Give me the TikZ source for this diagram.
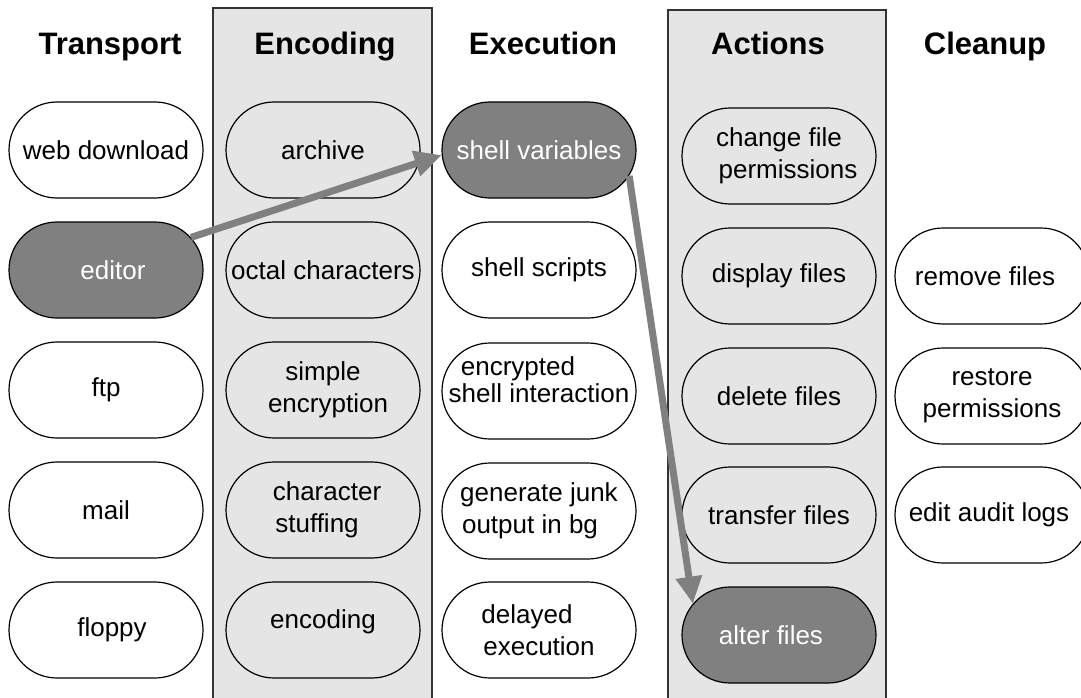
\documentclass[tikz,border=0pt]{standalone}
\usepackage{fontspec}
\setmainfont{Liberation Sans}
\usetikzlibrary{shapes.misc,arrows.meta}
\definecolor{panel}{HTML}{E5E5E5}
\definecolor{hilite}{HTML}{808080}
\definecolor{arrowgray}{HTML}{808080}
\begin{document}
\begin{tikzpicture}[x=1pt,y=-1pt,
  item/.style={rounded rectangle, draw=black, line width=1.2pt, minimum width=194pt, minimum height=96pt, inner sep=0pt, align=center, font=\fontsize{26}{32}\selectfont, text=black},
  plain/.style={item, fill=white},
  inpanel/.style={item, fill=panel},
  hot/.style={item, fill=hilite, text=white},
  head/.style={font=\fontsize{31}{36}\selectfont\bfseries, anchor=base, inner sep=0pt},
  panelbox/.style={draw=black!80, fill=panel, line width=1.2pt},
  flow/.style={draw=arrowgray, line width=7pt, -{Triangle[length=27pt,width=25pt]}}]
\useasboundingbox (0,0) rectangle (1081,698);
\fill[white] (0,0) rectangle (1081,698);
% panels
\draw[panelbox] (213,702) -- (213,8) -- (432,8) -- (432,702);
\draw[panelbox] (668,702) -- (668,10) -- (886,10) -- (886,702);
% headers
\node[head] (hT) at (110,55) {Transport};
\node[head] (hEn) at (325,55) {Encoding};
\node[head] (hEx) at (543,55) {Execution};
\node[head] (hA) at (768,55) {Actions};
\node[head] (hC) at (985,55) {Cleanup};
% transport
\node[plain] (web) at (106,150) {web download};
\node[hot] (editor) at (106,270) {\hspace*{14pt}editor};
\node[plain] (ftp) at (106,390) {ftp};
\node[plain] (mail) at (106,510) {mail};
\node[plain] (floppy) at (106,630) {\hspace*{12pt}floppy};
% encoding
\node[inpanel] (archive) at (323,150) {archive};
\node[inpanel] (octal) at (323,270) {octal characters};
\node[inpanel] (simple) at (323,390) {simple\\\hspace*{10pt}encryption};
\node[inpanel] (stuff) at (323,510) {\hspace*{8pt}character\\\hspace*{-12pt}stuffing};
\node[inpanel] (enc) at (323,630) {encoding\\[-10pt]\mbox{}};
% execution
\node[hot] (shellvar) at (539,150) {shell variables};
\node[plain] (scripts) at (539,270) {shell scripts};
\node[plain, font=\fontsize{26}{27}\selectfont] (crypt) at (539,391) {\hspace*{-42pt}encrypted\\\makebox[150pt]{shell interaction}\\[-4pt]\mbox{}};
\node[plain] (junk) at (539,511) {generate junk\\\hspace*{-18pt}output in bg};
\node[plain] (delayed) at (539,630) {\hspace*{-24pt}delayed\\execution};
% actions
\node[inpanel] (chmod) at (779,156) {change file\\\hspace*{18pt}permissions};
\node[inpanel] (display) at (779,276) {display files};
\node[inpanel] (delete) at (779,396) {delete files};
\node[inpanel] (transfer) at (779,515) {transfer files};
\node[hot] (alter) at (779,635) {\hspace*{-16pt}alter files};
% cleanup
\node[plain] (remove) at (992,276) {\hspace*{-14pt}remove files};
\node[plain] (restore) at (992,396) {restore\\permissions};
\node[plain] (audit) at (992,515) {\hspace*{-6pt}edit audit logs};
% arrows
\draw[flow] (editor.21) -- (shellvar.183);
\draw[flow] (shellvar.-16) -- (alter.160);
\end{tikzpicture}
\end{document}
